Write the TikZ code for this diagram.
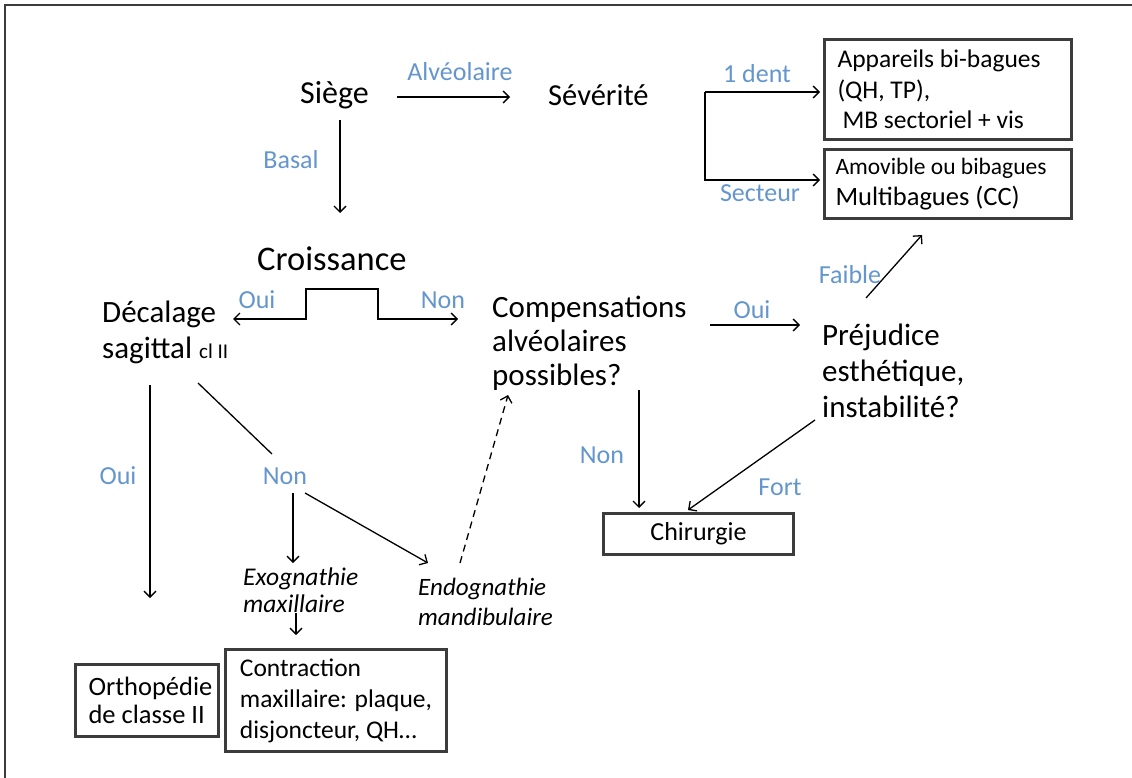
\documentclass[tikz,border=0pt]{standalone}
\usepackage{fontspec}
\setmainfont{Carlito}
\usepackage{xcolor}
\usetikzlibrary{arrows.meta}
\definecolor{lblue}{RGB}{100,150,205}
\definecolor{dgray}{RGB}{60,60,60}

\begin{document}
\begin{tikzpicture}
          [x=1pt,y=-1pt,
          txt/.style={font=\fontsize{31}{36}\selectfont,inner sep=0pt,align=left,anchor=base west},
          itxt/.style={font=\fontsize{25.5}{27}\selectfont\itshape,inner sep=0pt,align=left,anchor=base west},
          lbl/.style={font=\fontsize{26}{30}\selectfont,text=lblue,inner sep=0pt},
          box/.style={draw=dgray,line width=3pt,inner ysep=0pt,anchor=north west,align=flush left,font=\fontsize{26.5}{31}\selectfont},
          arc/.style={->,>={Straight Barb[length=6pt,width=12pt]},line width=1.3pt},
          link/.style={line width=1.3pt}]

            \useasboundingbox (0,0) rectangle (1132,778);
            \draw [dgray,line width=2pt] (5,778) -- (5,5) -- (1132,5);

            \node (siege) [txt,font=\fontsize{32}{36}\selectfont] at (300,104) {Siège};
            \node (severite) [txt,font=\fontsize{30.5}{36}\selectfont] at (548,106) {Sévérité};
            \node (croiss) [txt,font=\fontsize{34.5}{40}\selectfont] at (257,270) {Croissance};
            \node (decal) [txt] at (102,358) {Décalage\\sagittal {\fontsize{21}{24}\selectfont cl II}};
            \node (compens) [txt,font=\fontsize{31}{34}\selectfont] at (492,385) {Compensations\\alvéolaires\\possibles?};
            \node (prej) [txt] at (822,417) {Préjudice\\esthétique,\\instabilité?};
            \node (exo) [itxt] at (243,612) {Exognathie\\maxillaire};
            \node (endo) [itxt,font=\fontsize{25}{30}\selectfont\itshape] at (418,625) {Endognathie\\mandibulaire};

            \node (bibag) [box,minimum width=247pt,minimum height=100pt,text width=221pt,inner xsep=13pt,font=\fontsize{25.5}{30.5}\selectfont] at (823,38) {Appareils bi-bagues\\(QH, TP),\\\hspace*{5pt}MB sectoriel + vis};
            \node (amov) [box,minimum width=247pt,minimum height=69pt,text width=225pt,inner xsep=11pt] at (823,148) {{\fontsize{23.5}{30}\selectfont Amovible ou bibagues}\\Multibagues (CC)};
            \node (chir) [box,minimum width=190pt,minimum height=41pt,align=center,font=\fontsize{26}{31}\selectfont] at (602,512) {Chirurgie};
            \node (ortho) [box,minimum width=143pt,minimum height=72pt,text width=117pt,inner xsep=13pt,font=\fontsize{26.5}{28}\selectfont] at (74,663) {Orthopédie\\de classe II};
            \node (contr) [box,minimum width=221pt,minimum height=102pt,inner xsep=0pt,font=\fontsize{25.5}{31}\selectfont] at (224,648) {Contraction\\maxillaire: plaque,\\disjoncteur, QH…};

            \node (lalv) [lbl] at (460,72) {Alvéolaire};
            \node (lbasal) [lbl] at (291,160) {Basal};
            \node (ldent) [lbl] at (757,74) {1 dent};
            \node (lsect) [lbl] at (760,193) {Secteur};
            \node (loui1) [lbl] at (257,300) {Oui};
            \node (lnon1) [lbl] at (443,300) {Non};
            \node (loui2) [lbl] at (118,476) {Oui};
            \node (lnon2) [lbl] at (285,476) {Non};
            \node (lnon3) [lbl] at (602,455) {Non};
            \node (loui3) [lbl] at (752,310) {Oui};
            \node (lfort) [lbl] at (780,487) {Fort};
            \node (lfaib) [lbl] at (850,275) {Faible};

            \coordinate (fork) at (705,92);

          \draw [arc] ([shift={(97,-7)}]siege.base west) -- ([shift={(-38,-9)}]severite.base west);
            \draw [arc] ([shift={(40,16)}]siege.base west) -- ([shift={(83,-57)}]croiss.base west);
            \draw [arc,<->] ([shift={(131,-39)}]decal.base west) -- ++(73,0) -- ++(0,-30) -- ++(72,0) -- ++(0,30) -- ([shift={(-34,-66)}]compens.base west);
            \draw [arc] ([shift={(48,27)}]decal.base west) -- ([shift={(76,-65)}]ortho.north west);
            \draw [link] ([shift={(96,25)}]decal.base west) -- ([shift={(-13,-22)}]lnon2.center);
            \draw [arc] ([shift={(8,17)}]lnon2.center) -- ([shift={(50,-49)}]exo.base west);
            \draw [arc] ([shift={(20,17)}]lnon2.center) -- ([shift={(10,-62)}]endo.base west);
            \draw [arc] ([shift={(53,1)}]exo.base west) -- ([shift={(72,-13)}]contr.north west);
            \draw [arc,dash pattern=on 7pt off 5pt] ([shift={(42,-62)}]endo.base west) -- ([shift={(16,10)}]compens.base west);
            \draw [arc] ([shift={(147,5)}]compens.base west) -- ([shift={(37,-4)}]chir.north west);
            \draw [arc] ([shift={(218,-60)}]compens.base west) -- ([shift={(-22,-92)}]prej.base west);
            \draw [arc] ([shift={(-7,3)}]prej.base west) -- ([shift={(86,-2)}]chir.north west);
            \draw [arc] ([shift={(44,-119)}]prej.base west) -- ([shift={(99,15)}]amov.south west);
            \draw [arc] (fork) -- ([shift={(-3,54)}]bibag.north west);
            \draw [arc] (fork) -- ++(0,88) -- ([shift={(-3,32)}]amov.north west);

        \end{tikzpicture}
\end{document}
